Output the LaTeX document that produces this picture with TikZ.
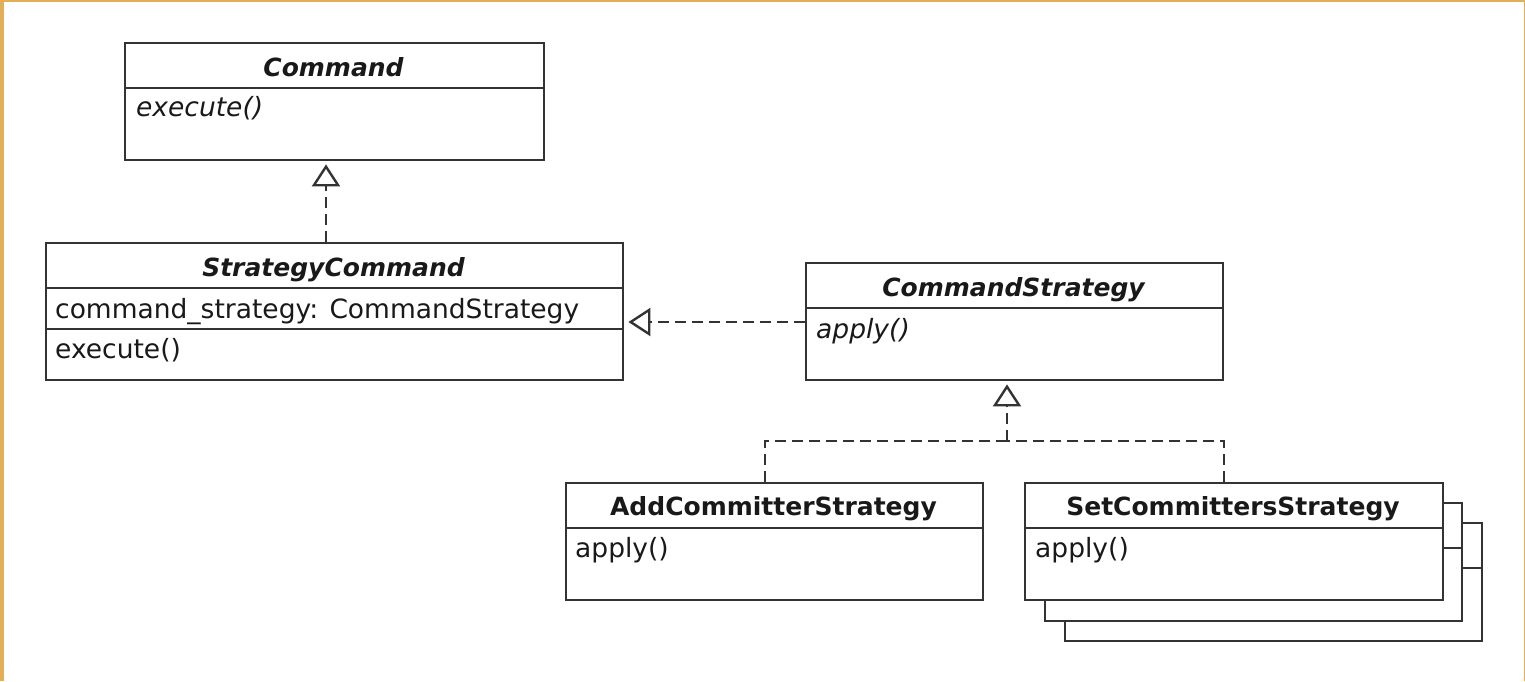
\documentclass[tikz,border=0pt]{standalone}
\usepackage{fontspec}
\setmainfont{DejaVu Sans}
\usetikzlibrary{arrows.meta}
\definecolor{edge}{HTML}{333333}
\definecolor{frameor}{HTML}{E3AE58}
\tikzset{
  classbox/.style={draw=edge, line width=2.4pt, fill=white, rectangle, inner sep=0pt, anchor=north west},
  divider/.style={draw=edge, line width=2.4pt},
  titletxt/.style={anchor=base, inner sep=0pt, text=black!90, font=\fontsize{25}{30}\selectfont\bfseries},
  abstitle/.style={anchor=base, inner sep=0pt, text=black!90, font=\fontsize{25}{30}\selectfont\bfseries\itshape},
  membertxt/.style={anchor=base west, inner sep=0pt, text=black!90, font=\fontsize{26.5}{30}\selectfont},
  absmember/.style={anchor=base west, inner sep=0pt, text=black!90, font=\fontsize{26.5}{30}\selectfont\itshape},
  realize/.style={draw=edge, line width=2.4pt, dash pattern=on 11pt off 6pt,
    -{Triangle[open, length=22pt, width=28pt, line width=2.4pt, fill=white]}},
  dashline/.style={draw=edge, line width=2.4pt, dash pattern=on 11pt off 6pt},
}
\begin{document}
\begin{tikzpicture}[x=1pt, y=-1pt]
\useasboundingbox (0,0) rectangle (1525,681);
\fill[white] (0,0) rectangle (1525,681);
% frame edges
\fill[frameor] (0,0) rectangle (4,681);
\fill[frameor] (0,0) rectangle (1525,1.5);
\fill[frameor] (1523.5,0) rectangle (1525,681);

% Command
\node[classbox, minimum width=419pt, minimum height=117pt] (cmd) at (124,42) {};
\draw[divider] (cmd.west |- 0,88) -- (cmd.east |- 0,88);
\node[abstitle] (cmdt) at (333.5,76) {Command};
\node[absmember] (cmdm) at (136,116) {execute()};

% StrategyCommand
\node[classbox, minimum width=577pt, minimum height=137pt] (sc) at (45,242) {};
\draw[divider] (sc.west |- 0,288) -- (sc.east |- 0,288);
\draw[divider] (sc.west |- 0,329) -- (sc.east |- 0,329);
\node[abstitle] (sct) at (333.5,276) {StrategyCommand};
\node[membertxt] (sca) at (55,318) {command\_strategy: CommandStrategy};
\node[membertxt] (scm) at (55,358) {execute()};

% CommandStrategy
\node[classbox, minimum width=417pt, minimum height=117pt] (cs) at (805,262) {};
\draw[divider] (cs.west |- 0,308) -- (cs.east |- 0,308);
\node[abstitle] (cst) at (1013.5,296) {CommandStrategy};
\node[absmember] (csm) at (816,338) {apply()};

% AddCommitterStrategy
\node[classbox, minimum width=417pt, minimum height=117pt] (acs) at (565,482) {};
\draw[divider] (acs.west |- 0,528) -- (acs.east |- 0,528);
\node[titletxt] (acst) at (773.5,515) {AddCommitterStrategy};
\node[membertxt] (acsm) at (575,557) {apply()};

% SetCommittersStrategy (stacked)
\node[classbox, minimum width=417pt, minimum height=118pt] (scs3) at (1064,522) {};
\draw[divider] (scs3.west |- 0,568) -- (scs3.east |- 0,568);
\node[classbox, minimum width=417pt, minimum height=118pt] (scs2) at (1044,502) {};
\draw[divider] (scs2.west |- 0,548) -- (scs2.east |- 0,548);
\node[classbox, minimum width=418pt, minimum height=117pt] (scs) at (1024,482) {};
\draw[divider] (scs.west |- 0,528) -- (scs.east |- 0,528);
\node[titletxt] (scst) at (1233,515) {SetCommittersStrategy};
\node[membertxt] (scsm) at (1035,557) {apply()};

% connectors
\draw[realize] (sc.north -| 326,0) -- ([yshift=-3pt]cmd.south -| 326,0);
\draw[realize] (cs.west |- 0,322) -- ([xshift=4pt]sc.east |- 0,322);
\coordinate (j) at (1007,441);
\draw[realize] (j) -- ([yshift=-3pt]cs.south -| j);
\draw[dashline] (acs.north -| 765,0) |- (j);
\draw[dashline] (scs.north -| 1224,0) |- (j);
\end{tikzpicture}
\end{document}
